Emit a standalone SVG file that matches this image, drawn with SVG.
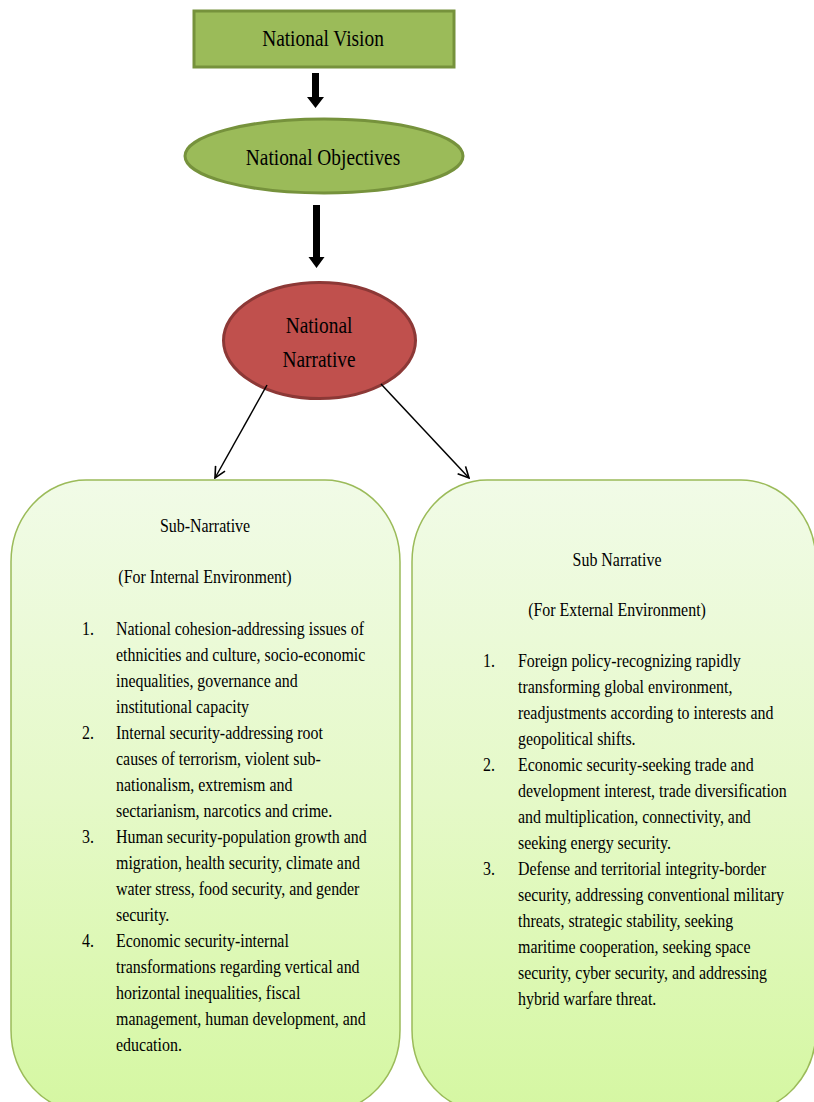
<svg xmlns="http://www.w3.org/2000/svg" width="814" height="1102" viewBox="0 0 814 1102">
<style>
  .t{font-family:"Liberation Serif","Times New Roman",serif;fill:#000}
  .big{font-size:23.5px;text-anchor:middle}
  .body{font-size:18px}
  .mid{text-anchor:middle}
  .green{fill:#9bbb59;stroke:#76923c;stroke-width:3}
  .red{fill:#c0504d;stroke:#8c3836;stroke-width:3}
  .sub{fill:url(#gbox);stroke:#9bbb59;stroke-width:1.5}
  .conn{stroke:#000;stroke-width:1.5;fill:none}
</style>
<defs>
  <linearGradient id="gbox" x1="0" y1="0" x2="0" y2="1">
    <stop offset="0" stop-color="#f1fbe7"/>
    <stop offset="0.5" stop-color="#e5f9c8"/>
    <stop offset="1" stop-color="#d5f7a2"/>
  </linearGradient>
  <marker id="open" viewBox="0 0 12 12" refX="11" refY="6" markerWidth="13" markerHeight="13" markerUnits="userSpaceOnUse" orient="auto">
    <path d="M1,1 L11,6 L1,11" fill="none" stroke="#000" stroke-width="1.5"/>
  </marker>
</defs>
<rect width="814" height="1102" fill="#fff"/>

<g id="vision">
  <rect class="green" x="194" y="11" width="260" height="56"/>
  <text class="t big" transform="translate(323,46) scale(0.825,1)">National Vision</text>
</g>

<g id="objectives">
  <ellipse class="green" cx="324" cy="156" rx="139" ry="37"/>
  <text class="t big" transform="translate(323,165) scale(0.825,1)">National Objectives</text>
</g>

<g id="narrative">
  <ellipse class="red" cx="319.5" cy="340.5" rx="96" ry="58"/>
  <text class="t big" transform="translate(319,333) scale(0.825,1)">National</text>
  <text class="t big" transform="translate(319,367) scale(0.825,1)">Narrative</text>
</g>

<g id="connectors">
  <polygon points="312,73 319,73 319,97 324,97 315.5,108 307,97 312,97" fill="#000"/>
  <polygon points="313,205 320,205 320,257 324.5,257 316.5,268 308.5,257 313,257" fill="#000"/>
  <line class="conn" x1="267" y1="385" x2="215" y2="478" marker-end="url(#open)"/>
  <line class="conn" x1="381" y1="384" x2="469" y2="478" marker-end="url(#open)"/>
</g>

<g id="internal">
  <rect class="sub" x="11" y="480" width="389" height="632" rx="75" ry="82"/>
  <g class="t body" transform="translate(116,0) scale(0.885,1)">
    <text class="mid" x="100.6" y="532">Sub-Narrative</text>
    <text class="mid" x="100.6" y="583">(For Internal Environment)</text>
    <text x="-38.4" y="635">1.</text>
    <text x="0" y="635">National cohesion-addressing issues of</text>
    <text x="0" y="661">ethnicities and culture, socio-economic</text>
    <text x="0" y="687">inequalities, governance and</text>
    <text x="0" y="713">institutional capacity</text>
    <text x="-38.4" y="739">2.</text>
    <text x="0" y="739">Internal security-addressing root</text>
    <text x="0" y="765">causes of terrorism, violent sub-</text>
    <text x="0" y="791">nationalism, extremism and</text>
    <text x="0" y="817">sectarianism, narcotics and crime.</text>
    <text x="-38.4" y="843">3.</text>
    <text x="0" y="843">Human security-population growth and</text>
    <text x="0" y="869">migration, health security, climate and</text>
    <text x="0" y="895">water stress, food security, and gender</text>
    <text x="0" y="921">security.</text>
    <text x="-38.4" y="947">4.</text>
    <text x="0" y="947">Economic security-internal</text>
    <text x="0" y="973">transformations regarding vertical and</text>
    <text x="0" y="999">horizontal inequalities, fiscal</text>
    <text x="0" y="1025">management, human development, and</text>
    <text x="0" y="1051">education.</text>
  </g>
</g>

<g id="external">
  <rect class="sub" x="412" y="480" width="404" height="632" rx="75" ry="82"/>
  <g class="t body" transform="translate(518,0) scale(0.885,1)">
    <text class="mid" x="111.9" y="566">Sub Narrative</text>
    <text class="mid" x="111.9" y="616">(For External Environment)</text>
    <text x="-39.5" y="667">1.</text>
    <text x="0" y="667">Foreign policy-recognizing rapidly</text>
    <text x="0" y="693">transforming global environment,</text>
    <text x="0" y="719">readjustments according to interests and</text>
    <text x="0" y="745">geopolitical shifts.</text>
    <text x="-39.5" y="771">2.</text>
    <text x="0" y="771">Economic security-seeking trade and</text>
    <text x="0" y="797">development interest, trade diversification</text>
    <text x="0" y="823">and multiplication, connectivity, and</text>
    <text x="0" y="849">seeking energy security.</text>
    <text x="-39.5" y="875">3.</text>
    <text x="0" y="875">Defense and territorial integrity-border</text>
    <text x="0" y="901">security, addressing conventional military</text>
    <text x="0" y="927">threats, strategic stability, seeking</text>
    <text x="0" y="953">maritime cooperation, seeking space</text>
    <text x="0" y="979">security, cyber security, and addressing</text>
    <text x="0" y="1005">hybrid warfare threat.</text>
  </g>
</g>
</svg>
